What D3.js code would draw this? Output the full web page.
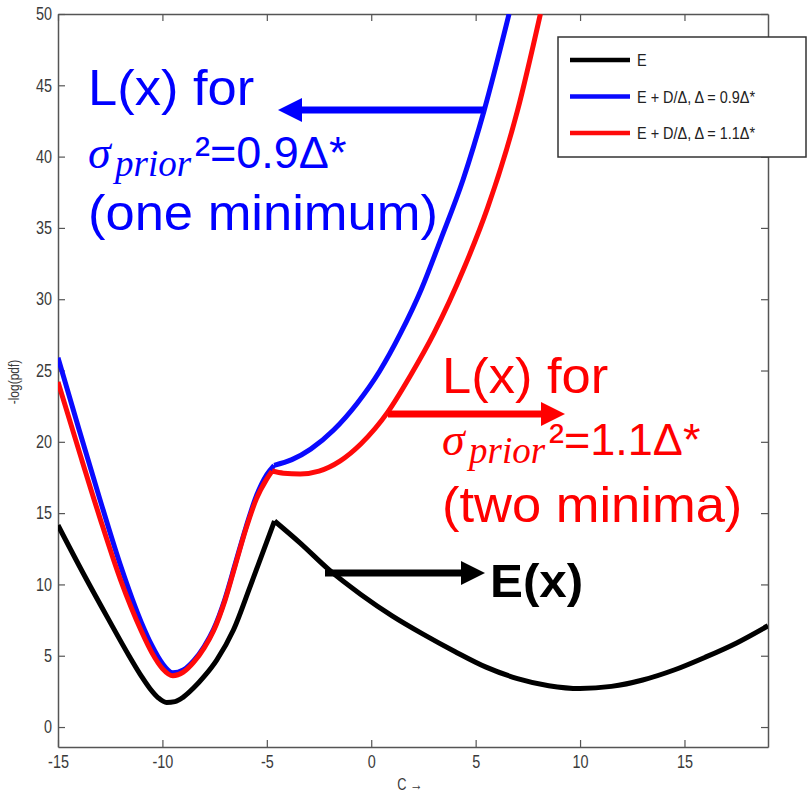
<!DOCTYPE html>
<html>
<head>
<meta charset="utf-8">
<script src="https://cdn.jsdelivr.net/npm/d3@7"></script>
<style>
  body { margin: 0; background: #fff; }
  svg { display: block; }
  .tick text { font-family: "Liberation Sans", Arial, sans-serif; font-size: 18px; fill: #3a3a3a; }
  .ann { font-family: "Liberation Sans", Arial, sans-serif; }
  .math { font-family: "Liberation Serif", "DejaVu Serif", serif; font-style: italic; }
</style>
</head>
<body>
<svg id="chart" width="808" height="800"></svg>
<script>
// E(x): left branch up to the peak, then right branch
const eLeftX  = [-15, -13.8, -12.6, -11.6, -11.0, -10.6, -10.2, -9.8, -9.4, -9.0, -8.5, -8.0, -7.4, -6.6, -5.8, -4.63];
const eLeftY  = [14.15, 10.8, 7.6, 5.0, 3.55, 2.7, 2.05, 1.72, 1.78, 2.1, 2.75, 3.55, 4.7, 6.8, 9.85, 14.45];
const eRightX = [-4.63, -3.4, -2.0, -0.5, 1.0, 2.5, 4.0, 5.5, 7.0, 8.5, 10.0, 11.5, 13.0, 14.5, 16.0, 17.5, 19.0];
const eRightY = [14.45, 12.9, 11.0, 9.3, 7.8, 6.5, 5.3, 4.2, 3.4, 2.9, 2.7, 2.85, 3.3, 4.0, 4.9, 5.9, 7.1];

// E + D/Δ, Δ = 0.9Δ*
const bLeftX  = [-15, -14, -13, -12, -11, -10.5, -10.0, -9.5, -9.0, -8.5, -8.0, -7.55, -7.0, -6.5, -6.0, -5.5, -5.0, -4.65];
const bLeftY  = [25.9, 20.9, 16.0, 11.3, 7.3, 5.7, 4.45, 3.8, 4.0, 4.65, 5.65, 6.85, 9.0, 11.5, 14.0, 16.2, 17.7, 18.35];
const bRightX = [-4.65, -3.8, -2.9, -1.8, -0.67, 0.4, 1.4, 2.4, 3.33, 4.4, 5.4, 6.6];
const bRightY = [18.35, 18.75, 19.49, 20.83, 22.71, 24.95, 27.6, 30.7, 34.2, 38.4, 43.2, 50.0];

// E + D/Δ, Δ = 1.1Δ*
const rLeftX  = [-15, -14, -13, -12, -11, -10.5, -10.0, -9.5, -9.0, -8.5, -8.0, -7.55, -7.0, -6.5, -6.0, -5.5, -5.0, -4.75];
const rLeftY  = [24.2, 19.4, 14.7, 10.3, 6.7, 5.2, 4.1, 3.6, 3.85, 4.55, 5.55, 6.75, 8.9, 11.4, 13.9, 16.0, 17.4, 17.95];
const rRightX = [-4.75, -4.2, -3.4, -2.5, -1.5, -0.5, 0.8, 1.9, 3.0, 4.45, 5.57, 7.0, 8.1];
const rRightY = [17.95, 17.8, 17.75, 17.95, 18.65, 19.85, 22.1, 24.7, 27.6, 32.2, 36.4, 43.2, 50.0];

const xTicks = [-15, -10, -5, 0, 5, 10, 15];
const yTicks = [0, 5, 10, 15, 20, 25, 30, 35, 40, 45, 50];
const legendLabels = ["E", "E + D/\u0394, \u0394 = 0.9\u0394*", "E + D/\u0394, \u0394 = 1.1\u0394*"];
const colors = ["#000000", "#0a0aff", "#ff0a0a"];

const svg = d3.select("#chart");
const L = 58, R = 768, T = 14, B = 747;

const x = d3.scaleLinear().domain([-15, 19]).range([L, R]);
const y = d3.scaleLinear().domain([-1.4, 50]).range([B, T]);

svg.append("defs").append("clipPath").attr("id", "plotclip")
  .append("rect").attr("x", L).attr("y", T).attr("width", R - L).attr("height", B - T);

// axes, MATLAB style box with inward ticks
const fmt = d => String(d);
const squeeze = 0.8;
function styleAxis(g) {
  g.selectAll("path.domain").attr("stroke", "#555").attr("stroke-width", 1.5);
  g.selectAll(".tick line").attr("stroke", "#555").attr("stroke-width", 1.2);
  g.selectAll(".tick text").each(function() {
    const t = d3.select(this);
    t.attr("x", (+t.attr("x") || 0) / squeeze).attr("transform", `scale(${squeeze},1)`);
  });
}
svg.append("g").attr("transform", `translate(0,${B})`)
  .call(d3.axisBottom(x).tickValues(xTicks).tickFormat(fmt).tickSizeInner(-7).tickSizeOuter(0).tickPadding(8))
  .call(styleAxis);
svg.append("g").attr("transform", `translate(0,${T})`)
  .call(d3.axisTop(x).tickValues(xTicks).tickFormat("").tickSizeInner(-7).tickSizeOuter(0))
  .call(styleAxis);
svg.append("g").attr("transform", `translate(${L},0)`)
  .call(d3.axisLeft(y).tickValues(yTicks).tickFormat(fmt).tickSizeInner(-7).tickSizeOuter(0).tickPadding(6))
  .call(styleAxis);
svg.append("g").attr("transform", `translate(${R},0)`)
  .call(d3.axisRight(y).tickValues(yTicks).tickFormat("").tickSizeInner(-7).tickSizeOuter(0))
  .call(styleAxis);

svg.append("text").attr("transform", "translate(410,790) scale(0.8,1)").attr("text-anchor", "middle")
  .attr("font-family", "Liberation Sans, Arial, sans-serif")
  .attr("font-size", 16).attr("fill", "#3a3a3a").text("C \u2192");
svg.append("text").attr("transform", "translate(19,382) rotate(-90) scale(0.8,1)").attr("text-anchor", "middle")
  .attr("font-family", "Liberation Sans, Arial, sans-serif")
  .attr("font-size", 15).attr("fill", "#3a3a3a").text("-log(pdf)");

// curves: each is drawn as two smooth pieces meeting at the kink near x = -4.6
const line = d3.line().x(d => x(d[0])).y(d => y(d[1])).curve(d3.curveMonotoneX);
const series = [
  { color: colors[0], parts: [d3.zip(eLeftX, eLeftY), d3.zip(eRightX, eRightY)] },
  { color: colors[1], parts: [d3.zip(bLeftX, bLeftY), d3.zip(bRightX, bRightY)] },
  { color: colors[2], parts: [d3.zip(rLeftX, rLeftY), d3.zip(rRightX, rRightY)] }
];
const plot = svg.append("g").attr("clip-path", "url(#plotclip)");
plot.selectAll("path.curve").data(series).join("path")
  .attr("class", "curve")
  .attr("d", s => s.parts.map(p => line(p)).join(""))
  .attr("fill", "none")
  .attr("stroke", s => s.color)
  .attr("stroke-width", 5)
  .attr("stroke-linejoin", "round");

// legend
const lg = svg.append("g");
lg.append("rect").attr("x", 558).attr("y", 37).attr("width", 248).attr("height", 120)
  .attr("fill", "#fff").attr("stroke", "#333").attr("stroke-width", 1.5);
legendLabels.forEach((lab, i) => {
  const yy = 60 + i * 36.5;
  lg.append("line").attr("x1", 570).attr("x2", 630).attr("y1", yy).attr("y2", yy)
    .attr("stroke", colors[i]).attr("stroke-width", 4.5);
  lg.append("text").attr("transform", `translate(637,${yy + 6}) scale(0.85,1)`)
    .attr("font-family", "Liberation Sans, Arial, sans-serif")
    .attr("font-size", 17).attr("fill", "#222").text(lab);
});

// annotations
function arrow(x1, x2, yy, color) {
  const dir = Math.sign(x2 - x1);
  svg.append("line").attr("x1", x1).attr("x2", x2 - dir * 20).attr("y1", yy).attr("y2", yy)
    .attr("stroke", color).attr("stroke-width", 7);
  svg.append("path")
    .attr("d", `M${x2},${yy}L${x2 - dir * 24},${yy - 12}L${x2 - dir * 24},${yy + 12}Z`)
    .attr("fill", color);
}
function sigmaLine(x0, base, color, rest) {
  const t = svg.append("text").attr("fill", color);
  t.append("tspan").attr("class", "math").attr("x", x0).attr("y", base).attr("font-size", 46).text("\u03C3");
  t.append("tspan").attr("class", "math").attr("x", x0 + 27).attr("y", base + 8).attr("font-size", 37).text("prior");
  t.append("tspan").attr("class", "ann").attr("x", x0 + 107).attr("y", base).attr("font-size", 45).text("\u00B2" + rest);
}
function annText(x0, yy, color, str, size, weight) {
  svg.append("text").attr("class", "ann").attr("transform", `translate(${x0},${yy}) scale(1.05,1)`)
    .attr("fill", color).attr("font-size", size).attr("font-weight", weight || "normal").text(str);
}

arrow(484, 278, 110, "#0000ff");
annText(88, 105, "#0000ff", "L(x) for", 50);
sigmaLine(88, 168, "#0000ff", "=0.9\u0394*");
annText(88, 230, "#0000ff", "(one minimum)", 50);

arrow(388, 565, 414, "#ff0000");
annText(442, 393, "#ff0000", "L(x) for", 50);
sigmaLine(442, 455, "#ff0000", "=1.1\u0394*");
annText(442, 522, "#ff0000", "(two minima)", 50);

arrow(325, 485, 573, "#000000");
annText(490, 597, "#000000", "E(x)", 47, "bold");
</script>
</body>
</html>
